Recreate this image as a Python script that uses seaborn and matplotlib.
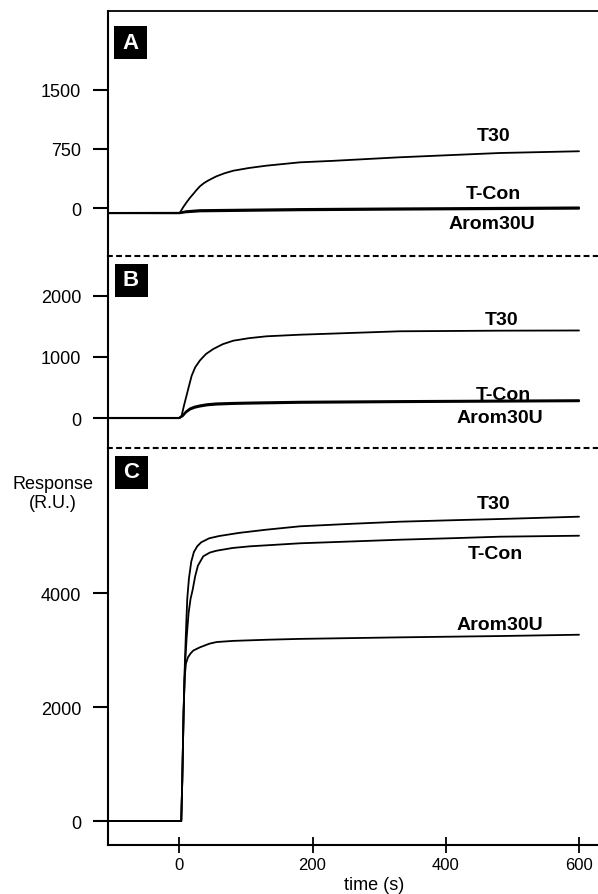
import matplotlib.pyplot as plt
import matplotlib.patches as mpatches
import seaborn as sns

# ---- panel A ----
a_t30_t = [-110, 0, 1, 6, 11, 16, 21, 26, 31, 37, 43, 50, 56, 68, 81, 105, 131, 181, 231,
           331, 481, 600]
a_t30_v = [-60, -60, -55, 15, 76, 132, 181, 232, 278, 318, 349, 380, 405, 443, 475, 510,
           539, 581, 600, 645, 699, 721]
a_tcon_t = [-110, 0, 10, 31, 181, 331, 600]
a_tcon_v = [-60, -58, -38, -24, -10, -2, 10]
a_arom_t = [-110, 0, 10, 31, 181, 331, 600]
a_arom_v = [-60, -62, -50, -38, -24, -16, -4]

# ---- panel B ----
b_t30_t = [-110, 0, 3.6, 7, 11, 15, 18.6, 24, 31, 40, 51, 65, 81, 105, 131, 181, 331,
           481, 600]
b_t30_v = [0, 0, 38, 200, 370, 540, 690, 830, 940, 1045, 1127, 1205, 1263, 1305, 1335,
           1361, 1417, 1427, 1430]
b_tcon_t = [-110, 0, 5, 10, 16, 23, 31, 42, 56, 80, 106, 181, 331, 600]
b_tcon_v = [0, 0, 40, 105, 155, 185, 205, 225, 238, 246, 252, 265, 276, 290]
b_arom_t = [-110, 0, 5, 10, 16, 23, 31, 42, 56, 80, 106, 181, 331, 600]
b_arom_v = [0, 0, 30, 90, 138, 168, 188, 208, 220, 230, 236, 249, 260, 275]

# ---- panel C ----
c_t30_t = [-110, 3, 4.5, 6.5, 8.5, 10, 12, 14.5, 18, 22, 27, 33, 45, 60, 90, 130,
           181, 260, 331, 420, 481, 600]
c_t30_v = [0, 0, 700, 1900, 2800, 3300, 3900, 4250, 4550, 4720, 4820, 4890, 4960,
           5000, 5055, 5110, 5170, 5215, 5251, 5280, 5298, 5339]
c_tcon_t = [-110, 3, 4.5, 6.5, 8.5, 11, 14, 17, 20, 24, 28, 36, 46, 56, 80, 106,
            181, 260, 331, 420, 481, 600]
c_tcon_v = [0, 0, 700, 1900, 2700, 3200, 3650, 3900, 4050, 4300, 4479, 4644, 4710,
            4742, 4790, 4819, 4872, 4905, 4935, 4965, 4988, 5005]
c_arom_t = [-110, 3, 4.5, 6.5, 8, 10, 13, 17, 21, 31, 45, 56, 81, 131, 181, 331, 481, 600]
c_arom_v = [0, 0, 700, 1900, 2500, 2760, 2870, 2940, 2990, 3047, 3110, 3140, 3160,
            3180, 3195, 3222, 3245, 3268]

names = ["T30", "T-Con", "Arom30U"]
panel_letters = ["A", "B", "C"]
a_ticks = [0, 750, 1500]
b_ticks = [0, 1000, 2000]
c_ticks = [0, 2000, 4000]
x_ticks = [0, 200, 400, 600]

sns.set_style("ticks")
plt.rcParams['font.family'] = ['Liberation Sans', 'DejaVu Sans']
for key in ["text.color", "axes.edgecolor", "axes.labelcolor", "xtick.color", "ytick.color"]:
    plt.rcParams[key] = "black"

fig = plt.figure(figsize=(5.98, 8.95), dpi=100)
W, H = 598.0, 895.0
left = 107.5 / W

def px_axes(top_px, bottom_px):
    return fig.add_axes([left, 1 - bottom_px / H, 1 - left, (bottom_px - top_px) / H])

axA = px_axes(12, 257)
axB = px_axes(257, 449)
axC = px_axes(449, 846)

panels = [
    (axA, [(a_t30_t, a_t30_v, 1.3), (a_tcon_t, a_tcon_v, 1.5), (a_arom_t, a_arom_v, 1.5)],
     (-603, 2494), a_ticks,
     [(471, 914), (471, 193), (469, -198)]),
    (axB, [(b_t30_t, b_t30_v, 1.3), (b_tcon_t, b_tcon_v, 1.5), (b_arom_t, b_arom_v, 1.5)],
     (-490, 2647), b_ticks,
     [(484, 1606), (486, 392), (481, 16)]),
    (axC, [(c_t30_t, c_t30_v, 1.3), (c_tcon_t, c_tcon_v, 1.3), (c_arom_t, c_arom_v, 1.3)],
     (-421, 6544), c_ticks,
     [(471, 5574), (474, 4696), (481, 3456)]),
]

for ax, series, ylim, yticks, label_pos in panels:
    for (t, v, lw) in series:
        sns.lineplot(x=t, y=v, ax=ax, color="black", lw=lw, estimator=None,
                     errorbar=None, sort=False)
    for name, (lx, ly) in zip(names, label_pos):
        ax.text(lx, ly, name, ha="center", va="center", fontsize=14,
                fontweight="bold", color="black")
    ax.set_xlim(-107.7, 628.5)
    ax.set_ylim(*ylim)
    ax.set_yticks(yticks)
    ax.set_yticklabels([str(y) for y in yticks])
    ax.set_xlabel("")
    ax.set_ylabel("")
    ax.tick_params(axis="y", direction="out", length=11, width=1.5,
                   labelsize=13, pad=8)
    ax.spines["right"].set_visible(False)
    ax.spines["left"].set_linewidth(1.5)
    ax.patch.set_alpha(0)

# spines: solid top in A, dashed separators, solid bottom in C
axA.spines["bottom"].set_visible(False)
axA.spines["top"].set_linewidth(1.3)
axB.spines["bottom"].set_visible(False)
for ax in (axB, axC):
    ax.spines["top"].set_linewidth(1.5)
    ax.spines["top"].set_linestyle((0, (1.8, 2.6)))
axC.spines["bottom"].set_linewidth(1.5)

for ax in (axA, axB):
    ax.tick_params(axis="x", bottom=False, labelbottom=False)

axC.set_xticks(x_ticks)
axC.set_xticklabels([str(x) for x in x_ticks])
axC.tick_params(axis="x", direction="inout", length=11, width=1.3,
                labelsize=12, pad=3)

# panel letter boxes
box_centers = [(130.5, 43.5), (131, 281), (131.5, 473)]
for letter, (cx, cy) in zip(panel_letters, box_centers):
    fig.patches.append(mpatches.Rectangle(((cx - 16.5) / W, 1 - (cy + 16.5) / H),
                                          33 / W, 33 / H, transform=fig.transFigure,
                                          facecolor="black", edgecolor="none"))
    fig.text(cx / W, 1 - cy / H, letter, color="white", fontsize=16,
             fontweight="bold", ha="center", va="center")

fig.text(53 / W, 1 - 494 / H, "Response\n(R.U.)", ha="center", va="center",
         fontsize=13, linespacing=1.2)
fig.text(374 / W, 1 - 886 / H, "time (s)", ha="center", va="center", fontsize=13)

fig.savefig("out.png", dpi=100)
